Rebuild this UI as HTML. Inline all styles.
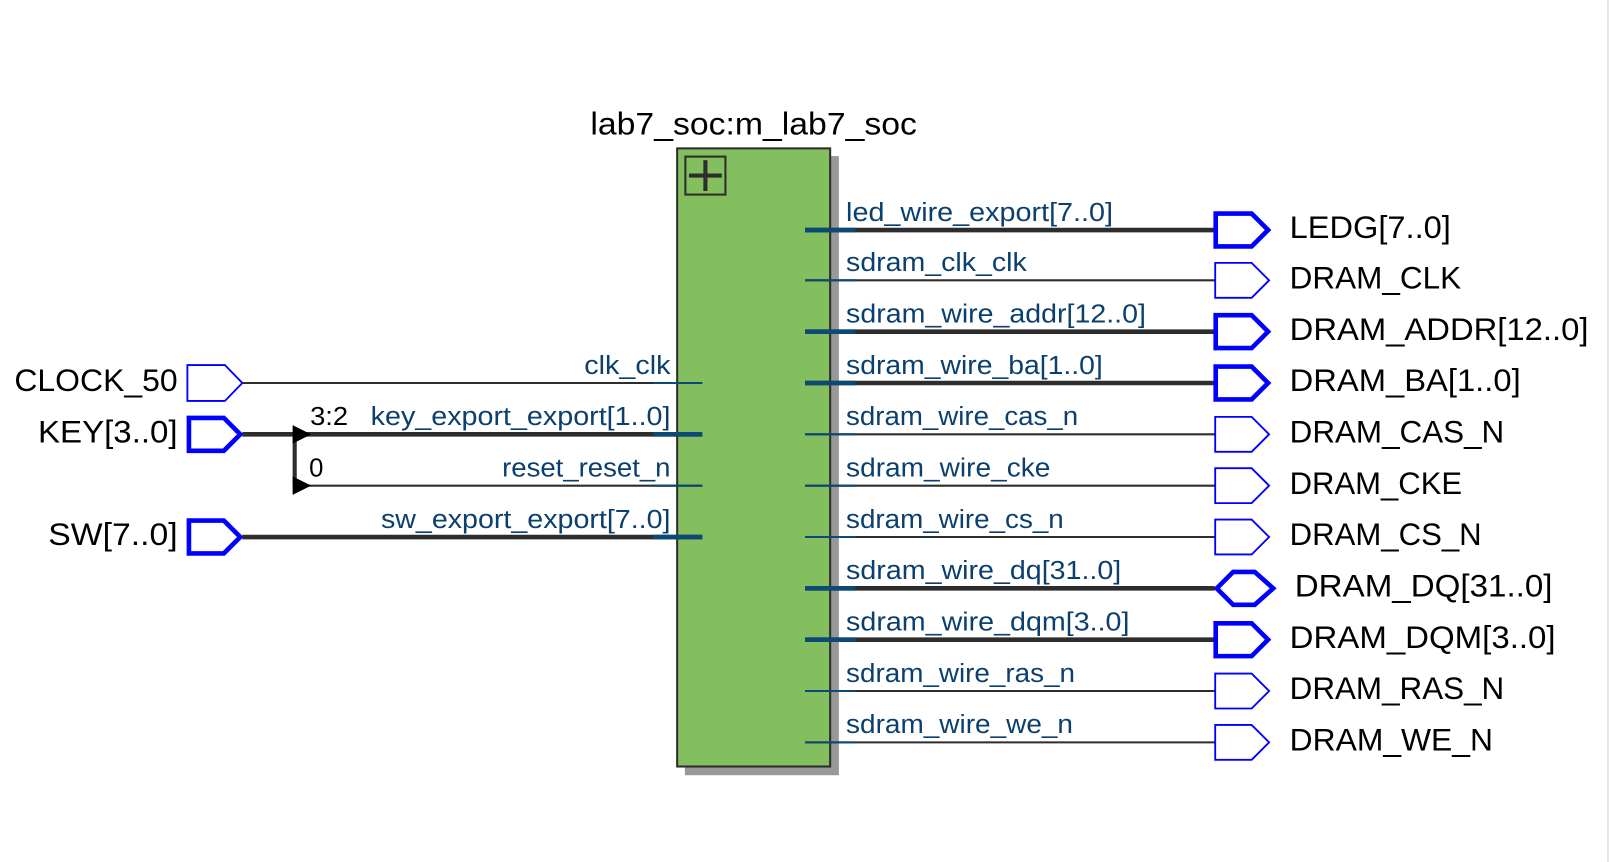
<!DOCTYPE html>
<html><head><meta charset="utf-8"><style>
html,body{margin:0;padding:0;background:#fff;}
svg{display:block;}
text{font-family:"Liberation Sans","DejaVu Sans",sans-serif;}
.pl{font-size:31px;fill:#000;}
.sl{font-size:25px;fill:#0b3f6e;}
</style></head><body>
<svg width="1610" height="862" viewBox="0 0 1568 839.5" xmlns="http://www.w3.org/2000/svg">
<rect width="1568" height="839.5" fill="#fff"/>
<text x="575" y="131" font-size="31" fill="#000" textLength="318" lengthAdjust="spacingAndGlyphs">lab7_soc:m_lab7_soc</text>
<rect x="667" y="152" width="150" height="603" fill="#999"/>
<rect x="659.5" y="144.5" width="149" height="602" fill="#84bf5f" stroke="#2d2d2d" stroke-width="2"/>
<rect x="667.5" y="152.5" width="39" height="37" fill="none" stroke="#2d2d2d" stroke-width="2"/>
<line x1="671" y1="171" x2="703" y2="171" stroke="#2d2d2d" stroke-width="4"/>
<line x1="687" y1="156" x2="687" y2="186" stroke="#2d2d2d" stroke-width="4"/>

<text class="pl" x="173" y="381" text-anchor="end" textLength="159" lengthAdjust="spacingAndGlyphs">CLOCK_50</text>
<text class="pl" x="173" y="431" text-anchor="end" textLength="136" lengthAdjust="spacingAndGlyphs">KEY[3..0]</text>
<text class="pl" x="173" y="531" text-anchor="end" textLength="126" lengthAdjust="spacingAndGlyphs">SW[7..0]</text>
<polygon points="182.5,355.5 219,355.5 236,373 219,390.5 182.5,390.5" fill="none" stroke="#0000ff" stroke-width="1.8"/>
<polygon points="184,407 218,407 234,423 218,439 184,439" fill="none" stroke="#0000ff" stroke-width="4.5"/>
<polygon points="184,507 218,507 234,523 218,539 184,539" fill="none" stroke="#0000ff" stroke-width="4.5"/>
<line x1="236" y1="373" x2="684" y2="373" stroke="#2d2d2d" stroke-width="2"/>
<line x1="236" y1="423" x2="684" y2="423" stroke="#2d2d2d" stroke-width="4.5"/>
<line x1="287" y1="423" x2="287" y2="473" stroke="#2d2d2d" stroke-width="4"/>
<line x1="287" y1="473" x2="684" y2="473" stroke="#2d2d2d" stroke-width="2"/>
<line x1="236" y1="523" x2="684" y2="523" stroke="#2d2d2d" stroke-width="4.5"/>
<polygon points="285,414 303,423 285,432" fill="#000"/>
<polygon points="285,464 303,473 285,482" fill="#000"/>
<line x1="636" y1="373" x2="684" y2="373" stroke="#0b4a74" stroke-width="2"/>
<line x1="636" y1="423" x2="684" y2="423" stroke="#0b4a74" stroke-width="4.5"/>
<line x1="636" y1="473" x2="684" y2="473" stroke="#0b4a74" stroke-width="2"/>
<line x1="636" y1="523" x2="684" y2="523" stroke="#0b4a74" stroke-width="4.5"/>
<text x="302" y="414" font-size="25" fill="#000" textLength="37" lengthAdjust="spacingAndGlyphs">3:2</text>
<text x="301" y="464" font-size="25" fill="#000">0</text>
<text class="sl" x="653" y="364" text-anchor="end" textLength="84" lengthAdjust="spacingAndGlyphs">clk_clk</text>
<text class="sl" x="653" y="414" text-anchor="end" textLength="292" lengthAdjust="spacingAndGlyphs">key_export_export[1..0]</text>
<text class="sl" x="653" y="464" text-anchor="end" textLength="164" lengthAdjust="spacingAndGlyphs">reset_reset_n</text>
<text class="sl" x="653" y="514" text-anchor="end" textLength="282" lengthAdjust="spacingAndGlyphs">sw_export_export[7..0]</text>

<g stroke="#2d2d2d">
<line x1="784" y1="224" x2="1183" y2="224" stroke-width="4.5"/>
<line x1="784" y1="273" x2="1183" y2="273" stroke-width="2"/>
<line x1="784" y1="323" x2="1183" y2="323" stroke-width="4.5"/>
<line x1="784" y1="373" x2="1183" y2="373" stroke-width="4.5"/>
<line x1="784" y1="423" x2="1183" y2="423" stroke-width="2"/>
<line x1="784" y1="473" x2="1183" y2="473" stroke-width="2"/>
<line x1="784" y1="523" x2="1183" y2="523" stroke-width="2"/>
<line x1="784" y1="573" x2="1183" y2="573" stroke-width="4.5"/>
<line x1="784" y1="623" x2="1183" y2="623" stroke-width="4.5"/>
<line x1="784" y1="673" x2="1183" y2="673" stroke-width="2"/>
<line x1="784" y1="723" x2="1183" y2="723" stroke-width="2"/>
</g>
<g stroke="#0b4a74">
<line x1="784" y1="224" x2="833" y2="224" stroke-width="4.5"/>
<line x1="784" y1="273" x2="833" y2="273" stroke-width="2"/>
<line x1="784" y1="323" x2="833" y2="323" stroke-width="4.5"/>
<line x1="784" y1="373" x2="833" y2="373" stroke-width="4.5"/>
<line x1="784" y1="423" x2="833" y2="423" stroke-width="2"/>
<line x1="784" y1="473" x2="833" y2="473" stroke-width="2"/>
<line x1="784" y1="523" x2="833" y2="523" stroke-width="2"/>
<line x1="784" y1="573" x2="833" y2="573" stroke-width="4.5"/>
<line x1="784" y1="623" x2="833" y2="623" stroke-width="4.5"/>
<line x1="784" y1="673" x2="833" y2="673" stroke-width="2"/>
<line x1="784" y1="723" x2="833" y2="723" stroke-width="2"/>
</g>
<text class="sl" x="824" y="215" textLength="260" lengthAdjust="spacingAndGlyphs">led_wire_export[7..0]</text>
<text class="sl" x="824" y="264" textLength="176" lengthAdjust="spacingAndGlyphs">sdram_clk_clk</text>
<text class="sl" x="824" y="314" textLength="292" lengthAdjust="spacingAndGlyphs">sdram_wire_addr[12..0]</text>
<text class="sl" x="824" y="364" textLength="250" lengthAdjust="spacingAndGlyphs">sdram_wire_ba[1..0]</text>
<text class="sl" x="824" y="414" textLength="226" lengthAdjust="spacingAndGlyphs">sdram_wire_cas_n</text>
<text class="sl" x="824" y="464" textLength="199" lengthAdjust="spacingAndGlyphs">sdram_wire_cke</text>
<text class="sl" x="824" y="514" textLength="212" lengthAdjust="spacingAndGlyphs">sdram_wire_cs_n</text>
<text class="sl" x="824" y="564" textLength="268" lengthAdjust="spacingAndGlyphs">sdram_wire_dq[31..0]</text>
<text class="sl" x="824" y="614" textLength="276" lengthAdjust="spacingAndGlyphs">sdram_wire_dqm[3..0]</text>
<text class="sl" x="824" y="664" textLength="223" lengthAdjust="spacingAndGlyphs">sdram_wire_ras_n</text>
<text class="sl" x="824" y="714" textLength="221" lengthAdjust="spacingAndGlyphs">sdram_wire_we_n</text>

<g fill="none" stroke="#0000ff">
<polygon points="1184,208 1219,208 1235,224 1219,240 1184,240" stroke-width="4.5"/>
<polygon points="1183.5,256 1219,256 1236,273 1219,290 1183.5,290" stroke-width="1.8"/>
<polygon points="1184,307 1219,307 1235,323 1219,339 1184,339" stroke-width="4.5"/>
<polygon points="1184,357 1219,357 1235,373 1219,389 1184,389" stroke-width="4.5"/>
<polygon points="1183.5,406 1219,406 1236,423 1219,440 1183.5,440" stroke-width="1.8"/>
<polygon points="1183.5,456 1219,456 1236,473 1219,490 1183.5,490" stroke-width="1.8"/>
<polygon points="1183.5,506 1219,506 1236,523 1219,540 1183.5,540" stroke-width="1.8"/>
<polygon points="1185,573 1201,557 1222,557 1240,573 1222,589 1201,589" stroke-width="4.5"/>
<polygon points="1184,607 1219,607 1235,623 1219,639 1184,639" stroke-width="4.5"/>
<polygon points="1183.5,656 1219,656 1236,673 1219,690 1183.5,690" stroke-width="1.8"/>
<polygon points="1183.5,706 1219,706 1236,723 1219,740 1183.5,740" stroke-width="1.8"/>
</g>
<text class="pl" x="1256" y="232" textLength="157" lengthAdjust="spacingAndGlyphs">LEDG[7..0]</text>
<text class="pl" x="1256" y="281" textLength="167" lengthAdjust="spacingAndGlyphs">DRAM_CLK</text>
<text class="pl" x="1256" y="331" textLength="291" lengthAdjust="spacingAndGlyphs">DRAM_ADDR[12..0]</text>
<text class="pl" x="1256" y="381" textLength="225" lengthAdjust="spacingAndGlyphs">DRAM_BA[1..0]</text>
<text class="pl" x="1256" y="431" textLength="209" lengthAdjust="spacingAndGlyphs">DRAM_CAS_N</text>
<text class="pl" x="1256" y="481" textLength="168" lengthAdjust="spacingAndGlyphs">DRAM_CKE</text>
<text class="pl" x="1256" y="531" textLength="187" lengthAdjust="spacingAndGlyphs">DRAM_CS_N</text>
<text class="pl" x="1261" y="581" textLength="251" lengthAdjust="spacingAndGlyphs">DRAM_DQ[31..0]</text>
<text class="pl" x="1256" y="631" textLength="259" lengthAdjust="spacingAndGlyphs">DRAM_DQM[3..0]</text>
<text class="pl" x="1256" y="681" textLength="209" lengthAdjust="spacingAndGlyphs">DRAM_RAS_N</text>
<text class="pl" x="1256" y="731" textLength="198" lengthAdjust="spacingAndGlyphs">DRAM_WE_N</text>
<line x1="1566" y1="0" x2="1566" y2="839.5" stroke="#ccc" stroke-width="1"/>
</svg>
</body></html>
